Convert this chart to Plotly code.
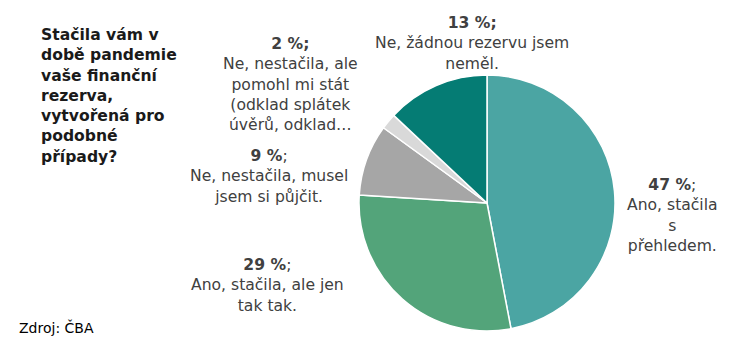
import plotly.graph_objects as go

labels = ["Ano, stačila s přehledem.", "Ano, stačila, ale jen tak tak.",
          "Ne, nestačila, musel jsem si půjčit.",
          "Ne, nestačila, ale pomohl mi stát (odklad splátek úvěrů, odklad…",
          "Ne, žádnou rezervu jsem neměl."]
values = [47, 29, 9, 2, 13]
colors = ["#4BA5A3", "#53A47A", "#A6A6A6", "#D9D9D9", "#057C74"]

# label texts (line-broken as in the reference)
label_lines = [
    "Ano, stačila<br>s<br>přehledem.",
    "Ano, stačila, ale jen<br>tak tak.",
    "Ne, nestačila, musel<br>jsem si půjčit.",
    "Ne, nestačila, ale<br>pomohl mi stát<br>(odklad splátek<br>úvěrů, odklad…",
    "Ne, žádnou rezervu jsem<br>neměl.",
]
semi_bold = [False, False, False, True, True]
label_pos = [(672, 174), (267, 254), (269, 145), (290, 33), (472, 12)]

W, H = 746, 348
fig = go.Figure(go.Pie(
    labels=labels, values=values, sort=False, direction="clockwise", rotation=0,
    marker=dict(colors=colors, line=dict(color="white", width=1.5)),
    textinfo="none", hoverinfo="label+percent", showlegend=False,
    domain=dict(x=[359 / W, 615 / W], y=[1 - 331 / H, 1 - 75 / H]),
))

anns = []
for v, txt, sb, (px, py) in zip(values, label_lines, semi_bold, label_pos):
    head = f"<b>{v} %;</b>" if sb else f"<b>{v} %</b>;"
    anns.append(dict(text=head + "<br>" + txt, x=px / W, y=1 - py / H,
                     xref="paper", yref="paper", xanchor="center", yanchor="top",
                     showarrow=False, align="center",
                     font=dict(family="DejaVu Sans", size=15.6, color="#404040")))

anns.append(dict(text="<b>Stačila vám v<br>době pandemie<br>vaše finanční<br>rezerva,<br>vytvořená pro<br>podobné<br>případy?</b>",
                 x=39 / W, y=1 - 24 / H, xref="paper", yref="paper",
                 xanchor="left", yanchor="top", showarrow=False, align="left",
                 font=dict(family="DejaVu Sans", size=15.6, color="#1a1a1a")))
anns.append(dict(text="Zdroj: ČBA", x=17 / W, y=1 - 317 / H, xref="paper", yref="paper",
                 xanchor="left", yanchor="top", showarrow=False, align="left",
                 font=dict(family="DejaVu Sans", size=14, color="#000000")))

fig.update_layout(width=W, height=H, margin=dict(l=0, r=0, t=0, b=0),
                  paper_bgcolor="white", plot_bgcolor="white", annotations=anns)
fig.write_html("out.html")
